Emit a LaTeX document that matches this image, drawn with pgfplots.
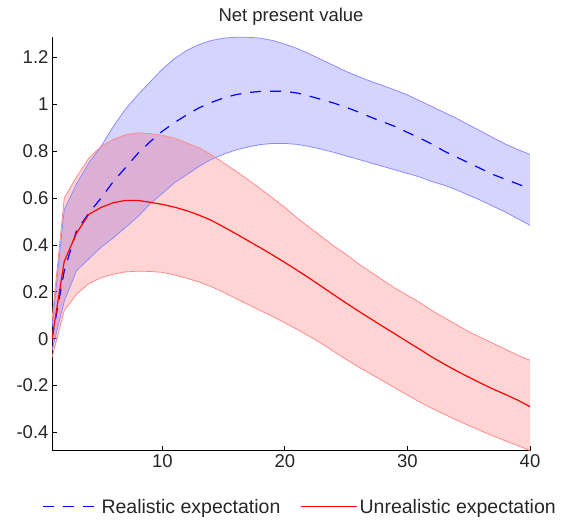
\documentclass[border=0pt]{standalone}
\usepackage{pgfplots}
\pgfplotsset{compat=1.18}
\usepackage{pgfplotstable}
\usepgfplotslibrary{fillbetween}
\usepackage{fontspec}
\setmainfont{Liberation Sans}
\newcommand{\chartfont}{\fontsize{18.5}{22}\selectfont}
\newcommand{\legfont}{\fontsize{19.5}{23}\selectfont}

\pgfplotstableread{
x  bu     bm     bl     ru     rm     rl
1  0.05   0.00  -0.05   0.08   0.00  -0.08
2  0.55   0.29   0.16   0.60   0.33   0.12
3  0.66   0.46   0.29   0.69   0.45   0.19
4  0.75   0.535  0.34   0.77   0.53   0.235
5  0.82   0.60   0.39   0.82   0.56   0.26
6  0.905  0.67   0.43   0.85   0.58   0.275
7  0.98   0.73   0.475  0.87   0.59   0.285
8  1.04   0.79   0.52   0.878  0.59   0.288
9  1.095  0.84   0.575  0.875  0.582  0.287
10 1.15   0.885  0.62   0.868  0.573  0.283
11 1.195  0.922  0.665  0.855  0.561  0.272
12 1.23   0.955  0.70   0.835  0.546  0.258
13 1.255  0.985  0.735  0.815  0.527  0.242
14 1.272  1.008  0.765  0.785  0.505  0.222
15 1.282  1.027  0.787  0.75   0.477  0.198
16 1.286  1.041  0.805  0.715  0.448  0.172
17 1.286  1.05   0.818  0.678  0.418  0.146
18 1.282  1.055  0.828  0.64   0.388  0.12
19 1.272  1.056  0.833  0.60   0.357  0.095
20 1.257  1.055  0.833  0.56   0.325  0.068
21 1.238  1.048  0.829  0.515  0.292  0.04
22 1.215  1.035  0.82   0.475  0.258  0.01
23 1.19   1.02   0.808  0.435  0.223 -0.02
24 1.165  1.005  0.795  0.395  0.187 -0.055
25 1.14   0.987  0.78   0.36   0.152 -0.088
26 1.118  0.967  0.765  0.32   0.118 -0.12
27 1.098  0.945  0.75   0.285  0.085 -0.15
28 1.08   0.925  0.735  0.25   0.052 -0.18
29 1.06   0.905  0.72   0.215  0.02  -0.21
30 1.04   0.88   0.705  0.185 -0.013 -0.24
31 1.015  0.856  0.69   0.155 -0.045 -0.27
32 0.99   0.83   0.67   0.12  -0.078 -0.297
33 0.965  0.80   0.655  0.09  -0.108 -0.322
34 0.94   0.775  0.635  0.06  -0.137 -0.347
35 0.912  0.75   0.612  0.03  -0.164 -0.37
36 0.885  0.725  0.59   0.005 -0.19  -0.393
37 0.857  0.70   0.565 -0.02  -0.215 -0.415
38 0.83   0.68   0.54  -0.045 -0.238 -0.436
39 0.807  0.66   0.512 -0.07  -0.262 -0.456
40 0.786  0.64   0.484 -0.092 -0.29  -0.477
}\data

\begin{document}
\begin{tikzpicture}
\begin{axis}[
  scale only axis, width=478pt, height=414pt,
  xmin=1, xmax=40, ymin=-0.479, ymax=1.287,
  axis x line*=bottom, axis y line*=left,
  axis line style={-, black, line width=1pt},
  xtick={10,20,30,40},
  ytick={-0.4,-0.2,0,0.2,0.4,0.6,0.8,1,1.2},
  tick align=inside, major tick length=5pt,
  tick style={black, line width=0.8pt},
  /pgf/number format/assume math mode=true,
  ticklabel style={font=\chartfont, text=black!85},
  title={Net present value},
  title style={font=\chartfont, text=black!85, yshift=2pt},
  legend columns=2,
  legend style={draw=none, fill=none, at={(0.519,-0.135)}, anchor=center,
    font=\legfont, text=black!85,
    /tikz/every even column/.append style={column sep=18pt}},
  legend image code/.code={\draw[#1] (0pt,0pt) -- (56pt,0pt);},
]
\coordinate (bl) at (rel axis cs:0,0);
\coordinate (tr) at (rel axis cs:1,1);
\addplot[name path=bu, blue!45, line width=0.8pt, forget plot] table[x=x,y=bu]{\data};
\addplot[name path=bl, blue!45, line width=0.8pt, forget plot] table[x=x,y=bl]{\data};
\addplot[blue, fill opacity=0.17, draw=none, forget plot] fill between[of=bu and bl];
\addplot[name path=ru, red!45, line width=0.8pt, forget plot] table[x=x,y=ru]{\data};
\addplot[name path=rl, red!45, line width=0.8pt, forget plot] table[x=x,y=rl]{\data};
\addplot[red, fill opacity=0.17, draw=none, forget plot] fill between[of=ru and rl];
\addplot[blue, line width=1.2pt, dash pattern=on 11pt off 9pt] table[x=x,y=bm]{\data};
\addlegendentry{Realistic expectation}
\addplot[red, line width=1.2pt] table[x=x,y=rm]{\data};
\addlegendentry{Unrealistic expectation}
\end{axis}
\pgfresetboundingbox
\path ([shift={(-52pt,-72pt)}]bl) rectangle ([shift={(33pt,37pt)}]tr);
\end{tikzpicture}
\end{document}
